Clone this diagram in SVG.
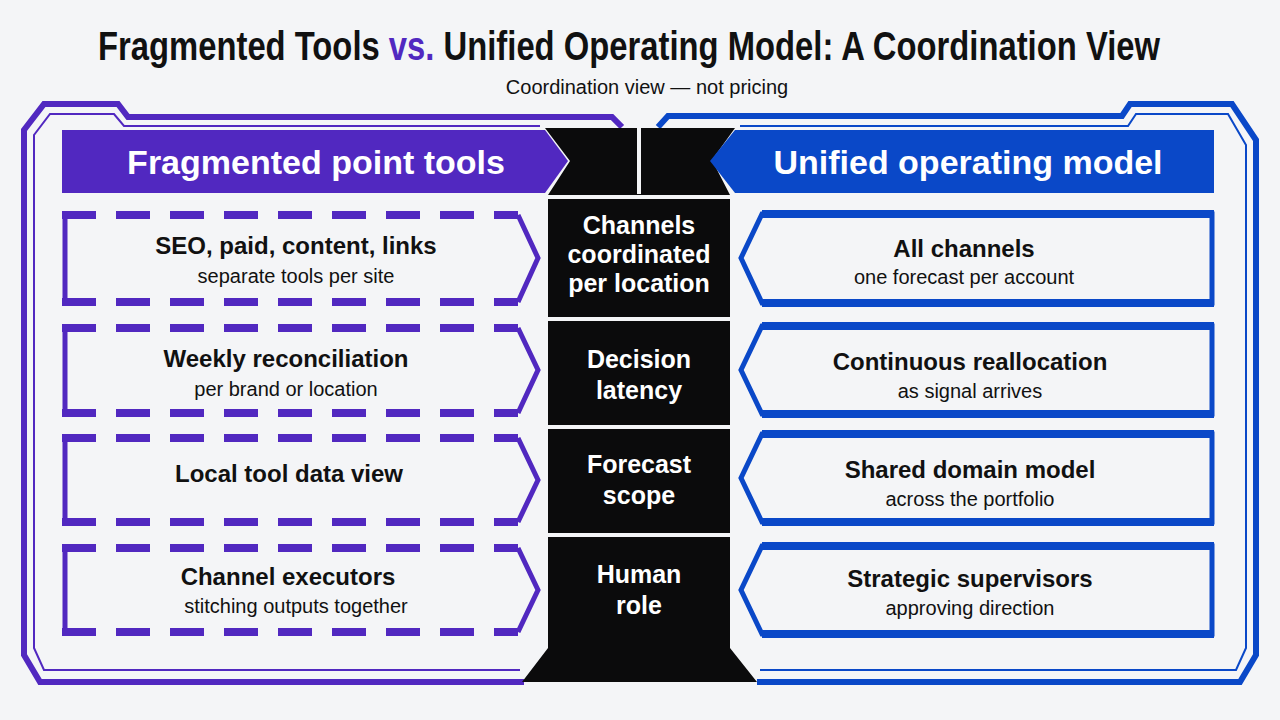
<svg xmlns="http://www.w3.org/2000/svg" width="1280" height="720" viewBox="0 0 1280 720">
<style>
.t{font-family:"Liberation Sans",Arial,sans-serif;text-anchor:middle}
.h{font-weight:bold;font-size:40px;fill:#111}
.b{font-weight:bold;font-size:24px;fill:#111}
.s{font-size:20px;fill:#111}
.w{font-weight:bold;font-size:25px;fill:#fff}
.hd{font-weight:bold;font-size:34px;fill:#fff}
.p{stroke:#5128c0;fill:none}
.u{stroke:#0a48c8;fill:none}
.dash{stroke-dasharray:34 20}
</style>
<rect width="1280" height="720" fill="#f4f5f7"/>
<text class="t h" transform="translate(629,60) scale(0.82,1)" x="0" y="0">Fragmented Tools <tspan fill="#5128c0">vs.</tspan> Unified Operating Model: A Coordination View</text>
<text class="t s" x="647" y="94">Coordination view — not pricing</text>
<g id="frames">
<path class="p" stroke-width="6" d="M524 682 L40 682 L24 655 L24 130 L44 104 L118 104 L128 117 L612 117 L622 127"/>
<path class="p" stroke-width="2" d="M520 670 L44 670 L34 648 L34 135 L50 114 L114 114 L124 126 L540 126"/>
<path class="u" stroke-width="6" d="M757 682 L1240 682 L1256 655 L1256 140 L1232 104 L1130 104 L1122 116 L668 116 L658 127"/>
<path class="u" stroke-width="2" d="M760 670 L1236 670 L1246 648 L1246 145 L1228 114 L1136 114 L1128 126 L740 126"/>
</g>
<g id="center">
<path fill="#0b0b0c" d="M545 128 L735 128 L712 160 L730 195 L730 648 L757 682 L522 682 L548 648 L548 195 L570 161 Z"/>
<line x1="639" y1="128" x2="639" y2="194" stroke="#f4f5f7" stroke-width="4"/>
<path d="M548 197 H730 M548 319 H730 M548 427 H730 M548 535 H730" stroke="#f4f5f7" stroke-width="4"/>
<text class="t w" x="639" y="234">Channels<tspan x="639" dy="29">coordinated</tspan><tspan x="639" dy="29">per location</tspan></text>
<text class="t w" x="639" y="368">Decision<tspan x="639" dy="31">latency</tspan></text>
<text class="t w" x="639" y="473">Forecast<tspan x="639" dy="31">scope</tspan></text>
<text class="t w" x="639" y="583">Human<tspan x="639" dy="31">role</tspan></text>
</g>
<g id="head-left">
<path fill="#5128c0" d="M62 130 H545 L568 161 L545 193 H62 Z"/>
<text class="t hd" x="316" y="174">Fragmented point tools</text>
</g>
<g id="head-right">
<path fill="#0a48c8" d="M1214 130 H735 L710 161 L735 193 H1214 Z"/>
<text class="t hd" x="968" y="174">Unified operating model</text>
</g>
<g id="left-rows" stroke-width="8">
<g id="l1"><path class="p dash" d="M62 215 H518 M62 302 H518"/><path class="p" stroke-width="5" d="M65 215 V302 M518 215 L538 258 L518 302"/>
<text class="t b" x="296" y="254">SEO, paid, content, links</text><text class="t s" x="296" y="283">separate tools per site</text></g>
<g id="l2"><path class="p dash" d="M62 328 H518 M62 413 H518"/><path class="p" stroke-width="5" d="M65 328 V413 M518 328 L538 370 L518 413"/>
<text class="t b" x="286" y="367">Weekly reconciliation</text><text class="t s" x="286" y="396">per brand or location</text></g>
<g id="l3"><path class="p dash" d="M62 438 H518 M62 522 H518"/><path class="p" stroke-width="5" d="M65 438 V522 M518 438 L538 480 L518 522"/>
<text class="t b" x="289" y="482">Local tool data view</text></g>
<g id="l4"><path class="p dash" d="M62 548 H518 M62 632 H518"/><path class="p" stroke-width="5" d="M65 548 V632 M518 548 L538 590 L518 632"/>
<text class="t b" x="288" y="585">Channel executors</text><text class="t s" x="296" y="613">stitching outputs together</text></g>
</g>
<g id="right-rows" stroke-width="5">
<g id="r1"><path class="u" d="M1212 214 H762 L741 258 L762 303 H1212 Z"/><path class="u" stroke-width="8" d="M762 214 H1214 M762 303 H1214"/>
<text class="t b" x="964" y="257">All channels</text><text class="t s" x="964" y="284">one forecast per account</text></g>
<g id="r2"><path class="u" d="M1212 326 H762 L741 370 L762 414 H1212 Z"/><path class="u" stroke-width="8" d="M762 326 H1214 M762 414 H1214"/>
<text class="t b" x="970" y="370">Continuous reallocation</text><text class="t s" x="970" y="398">as signal arrives</text></g>
<g id="r3"><path class="u" d="M1212 434 H762 L741 478 L762 522 H1212 Z"/><path class="u" stroke-width="8" d="M762 434 H1214 M762 522 H1214"/>
<text class="t b" x="970" y="478">Shared domain model</text><text class="t s" x="970" y="506">across the portfolio</text></g>
<g id="r4"><path class="u" d="M1212 546 H762 L741 590 L762 634 H1212 Z"/><path class="u" stroke-width="8" d="M762 546 H1214 M762 634 H1214"/>
<text class="t b" x="970" y="587">Strategic supervisors</text><text class="t s" x="970" y="615">approving direction</text></g>
</g>
</svg>
